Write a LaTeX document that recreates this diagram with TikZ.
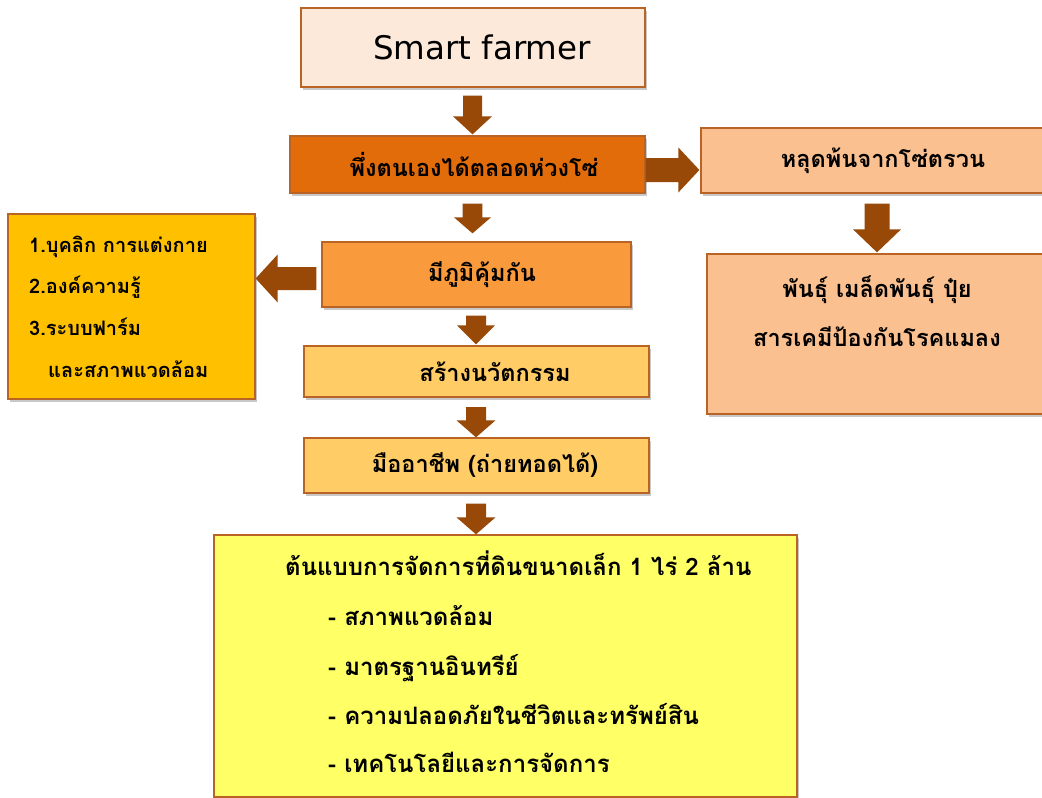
\documentclass[tikz,border=0pt]{standalone}
\usepackage{fontspec}
\usetikzlibrary{calc,shadows}
\newfontfamily\thaif[Script=Thai]{Loma}
\newfontfamily\latinf{DejaVu Sans}
\definecolor{arrowc}{HTML}{984807}
\definecolor{bordc}{HTML}{B96424}
\definecolor{fsmart}{HTML}{FDE9D9}
\definecolor{fself}{HTML}{E36C0A}
\definecolor{fpeach}{HTML}{FAC090}
\definecolor{fimmune}{HTML}{F99A3C}
\definecolor{flight}{HTML}{FFCC66}
\definecolor{fgold}{HTML}{FFC000}
\definecolor{fyellow}{HTML}{FFFF66}
\newcommand\arrdown[8]{%
 \fill[arrowc] let \p1=(#3,0 |- #1.south), \p2=(#3,0 |- #2.north) in
 (\x1-#6pt,\y1-#4pt) -- (\x1+#6pt,\y1-#4pt) -- (\x1+#6pt,\y2+#5pt+#8pt) -- (\x1+#7pt,\y2+#5pt+#8pt)
 -- (\x1,\y2+#5pt) -- (\x1-#7pt,\y2+#5pt+#8pt) -- (\x1-#6pt,\y2+#5pt+#8pt) -- cycle;}
\newcommand\arrright[8]{%
 \fill[arrowc] let \p1=(#1.east |- 0,#3), \p2=(#2.west |- 0,#3) in
 (\x1+#4pt,\y1+#6pt) -- (\x2-#5pt-#8pt,\y1+#6pt) -- (\x2-#5pt-#8pt,\y1+#7pt) -- (\x2-#5pt,\y1)
 -- (\x2-#5pt-#8pt,\y1-#7pt) -- (\x2-#5pt-#8pt,\y1-#6pt) -- (\x1+#4pt,\y1-#6pt) -- cycle;}
\newcommand\arrleft[8]{%
 \fill[arrowc] let \p1=(#1.west |- 0,#3), \p2=(#2.east |- 0,#3) in
 (\x1-#4pt,\y1+#6pt) -- (\x2+#5pt+#8pt,\y1+#6pt) -- (\x2+#5pt+#8pt,\y1+#7pt) -- (\x2+#5pt,\y1)
 -- (\x2+#5pt+#8pt,\y1-#7pt) -- (\x2+#5pt+#8pt,\y1-#6pt) -- (\x1-#4pt,\y1-#6pt) -- cycle;}
\tikzset{
 box/.style={draw=bordc, line width=1.3pt, inner sep=0pt, rectangle,
   drop shadow={shadow xshift=2pt, shadow yshift=-3pt, opacity=0.3, fill=black!70},
   font=\thaif\bfseries\fontsize{23.5}{28}\selectfont},
 txt/.style={inner sep=0pt, anchor=base west, font=\thaif\bfseries\fontsize{20}{24}\selectfont},
 ytxt/.style={txt, font=\thaif\bfseries\fontsize{24}{28}\selectfont},
 ctxt/.style={txt, anchor=base, font=\thaif\bfseries\fontsize{23.5}{28}\selectfont}
}
\begin{document}
\begin{tikzpicture}[x=1pt,y=-1pt]
\useasboundingbox[fill=white] (0,0) rectangle (1042,798);
% boxes
\node[box, fill=fsmart, minimum width=344pt, minimum height=79pt, font=\latinf\fontsize{32.5}{38}\selectfont] (sf) at (473,47.5) {\hspace*{18pt}Smart farmer};
\node[box, fill=fself, minimum width=355pt, minimum height=57pt] (self) at (467.5,164.5) {\hspace*{13pt}พึ่งตนเองได้ตลอดห่วงโซ่};
\node[box, fill=fpeach, minimum width=364pt, minimum height=65pt] (free) at (883,160.5) {หลุดพ้นจากโซ่ตรวน};
\node[box, fill=fpeach, minimum width=340pt, minimum height=160pt] (seeds) at (877,334) {};
\node[box, fill=fimmune, minimum width=309pt, minimum height=65pt] (immune) at (476.5,274.5) {\hspace*{11pt}มีภูมิคุ้มกัน};
\node[box, fill=fgold, minimum width=247pt, minimum height=185pt] (left) at (131.5,306.5) {};
\node[box, fill=flight, minimum width=345pt, minimum height=51pt] (innov) at (476.5,371.5) {\hspace*{37pt}สร้างนวัตกรรม};
\node[box, fill=flight, minimum width=345pt, minimum height=55pt] (pro) at (476.5,465.5) {\hspace*{17pt}มืออาชีพ (ถ่ายทอดได้)};
\node[box, fill=fyellow, minimum width=583pt, minimum height=262pt] (model) at (505.5,666) {};
% texts of multi-line boxes
\node[ctxt] (s1) at (877,297) {พันธุ์ เมล็ดพันธุ์ ปุ๋ย};
\node[ctxt] (s2) at (877,346) {สารเคมีป้องกันโรคแมลง};
\node[txt] (l1) at (29,252) {1.บุคลิก การแต่งกาย};
\node[txt] (l2) at (29,293) {2.องค์ความรู้};
\node[txt] (l3) at (29,335) {3.ระบบฟาร์ม};
\node[txt] (l4) at (48,377) {และสภาพแวดล้อม};
\node[ytxt] (m0) at (285,575) {ต้นแบบการจัดการที่ดินขนาดเล็ก 1 ไร่ 2 ล้าน};
\node[ytxt] (m1) at (328,625) {- สภาพแวดล้อม};
\node[ytxt] (m2) at (328,675) {- มาตรฐานอินทรีย์};
\node[ytxt] (m3) at (328,724) {- ความปลอดภัยในชีวิตและทรัพย์สิน};
\node[ytxt] (m4) at (328,772) {- เทคโนโลยีและการจัดการ};
% arrows
\arrdown{sf}{self}{472.5}{8}{1}{9.5}{19.5}{18}
\arrdown{self}{immune}{472.5}{10}{8}{9.8}{18.5}{16}
\arrdown{immune}{innov}{476}{8}{1}{10}{19}{19}
\arrdown{innov}{pro}{476}{9.5}{0}{10}{19.5}{17}
\arrdown{pro}{model}{476}{10}{0}{10}{19.5}{17}
\arrdown{free}{seeds}{877}{10}{1}{12.5}{24}{23}
\arrright{self}{free}{170}{0}{1}{12}{22.5}{21}
\arrleft{immune}{left}{278.5}{5}{0}{11.5}{24}{22}
\end{tikzpicture}
\end{document}
